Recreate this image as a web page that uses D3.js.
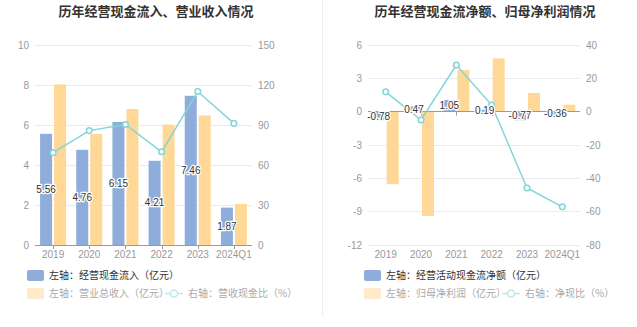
<!DOCTYPE html>
<html><head><meta charset="utf-8">
<script src="https://cdn.jsdelivr.net/npm/d3@7/dist/d3.min.js"></script>
<style>
html,body{margin:0;padding:0;background:#fff;}
svg{display:block;font-family:"Liberation Sans",Arial,"Noto Sans CJK SC",sans-serif;}
</style></head><body>
<svg id="c" width="637" height="327"></svg>
<script>
const categories = ["2019","2020","2021","2022","2023","2024Q1"];
// Left chart
const cashInflow = [5.56, 4.76, 6.15, 4.21, 7.46, 1.87];
const revenue = [8.03, 5.55, 6.80, 6.02, 6.48, 2.05];
const cashRevRatio = [69.2, 85.8, 90.4, 69.9, 115.1, 91.2];
const leftTicksL = [0, 2, 4, 6, 8, 10];
const leftTicksR = [0, 30, 60, 90, 120, 150];
// Right chart
const netCashFlow = [-0.78, 0.47, 1.05, 0.19, -0.77, -0.36];
const netProfit = [-6.53, -9.39, 3.75, 4.80, 1.68, 0.63];
const netCashRatio = [11.9, -5.0, 28.0, 3.96, -45.8, -57.1];
const rightTicksL = [-12, -9, -6, -3, 0, 3, 6];
const rightTicksR = [-80, -60, -40, -20, 0, 20, 40];

const BLUE = "#8EADDB", ORANGE = "#FFD897", LINE = "#82D5D9";
const svg = d3.select("#c");

function chart(o) {
  const g = svg.append("g");
  const x = d3.scaleBand().domain(categories).range([o.x0, o.x1]);
  const yL = d3.scaleLinear().domain(o.domL).range([245, 45]);
  const yR = d3.scaleLinear().domain(o.domR).range([245, 45]);
  // title
  g.append("text").attr("x", o.tx).attr("y", 16).attr("text-anchor", "middle")
    .attr("font-size", 13).attr("font-weight", "bold").attr("fill", "#333")
    .attr("font-family", "'Noto Sans CJK SC',sans-serif").text(o.title);
  // grid
  g.selectAll(".grid").data(o.ticksL).join("line")
    .attr("x1", o.x0).attr("x2", o.x1).attr("y1", d => yL(d)).attr("y2", d => yL(d))
    .attr("stroke", "#E8EBF4").attr("stroke-width", 1).attr("shape-rendering", "crispEdges");
  // left axis labels
  g.selectAll(".yl").data(o.ticksL).join("text")
    .attr("x", o.x0 - 6).attr("y", d => yL(d)).attr("dy", "0.35em").attr("text-anchor", "end")
    .attr("font-size", 10).attr("fill", "#999").text(d => d);
  g.selectAll(".yr").data(o.ticksR).join("text")
    .attr("x", o.x1 + 6).attr("y", d => yR(d)).attr("dy", "0.35em").attr("text-anchor", "start")
    .attr("font-size", 10).attr("fill", "#999").text(d => d);
  const c = d => x(d) + x.bandwidth() / 2;
  // bars
  g.selectAll(".b1").data(categories).join("rect")
    .attr("x", d => c(d) - 13).attr("width", 12)
    .attr("y", (d, i) => Math.min(yL(o.blue[i]), yL(0)))
    .attr("height", (d, i) => Math.abs(yL(o.blue[i]) - yL(0)))
    .attr("fill", BLUE);
  g.selectAll(".b2").data(categories).join("rect")
    .attr("x", d => c(d) + 1).attr("width", 12)
    .attr("y", (d, i) => Math.min(yL(o.orange[i]), yL(0)))
    .attr("height", (d, i) => Math.abs(yL(o.orange[i]) - yL(0)))
    .attr("fill", ORANGE);
  // axis line at zero
  g.append("line").attr("x1", o.x0).attr("x2", o.x1).attr("y1", yL(0)).attr("y2", yL(0))
    .attr("stroke", "#9a9a9a").attr("stroke-width", 1).attr("shape-rendering", "crispEdges");
  g.selectAll(".tk").data(categories).join("line")
    .attr("x1", d => Math.round(c(d)) + 0.5).attr("x2", d => Math.round(c(d)) + 0.5)
    .attr("y1", yL(0)).attr("y2", yL(0) + 4).attr("stroke", "#9a9a9a");
  // x labels
  g.selectAll(".xl").data(categories).join("text")
    .attr("x", d => c(d)).attr("y", 258).attr("text-anchor", "middle")
    .attr("font-size", 10).attr("fill", "#999").text(d => d);
  // line
  const line = d3.line().x(d => c(d[0])).y(d => yR(d[1]));
  const pts = categories.map((d, i) => [d, o.ratio[i]]);
  g.append("path").attr("d", line(pts)).attr("fill", "none").attr("stroke", LINE).attr("stroke-width", 1.5);
  g.selectAll(".pt").data(pts).join("circle")
    .attr("cx", d => c(d[0])).attr("cy", d => yR(d[1])).attr("r", 2.8)
    .attr("fill", "#fff").attr("stroke", LINE).attr("stroke-width", 1.5);
  // labels
  g.selectAll(".lb").data(categories).join("text")
    .attr("x", d => c(d) - 7).attr("y", (d, i) => (yL(o.blue[i]) + yL(0)) / 2).attr("dy", "0.35em")
    .attr("text-anchor", "middle").attr("font-size", 10).attr("fill", "#333")
    .attr("stroke", "#fff").attr("stroke-width", 2.5).attr("paint-order", "stroke")
    .attr("stroke-linejoin", "round").text((d, i) => o.blue[i].toFixed(2));
  // legend
  const lg = g.append("g").attr("font-family", "'Noto Sans CJK SC',sans-serif").attr("font-size", 10);
  lg.append("rect").attr("x", o.lx).attr("y", 270).attr("width", 17).attr("height", 11).attr("rx", 2).attr("fill", BLUE);
  lg.append("text").attr("x", o.lx + 22).attr("y", 275.5).attr("dy", "0.35em").attr("fill", "#333").text(o.leg1);
  lg.append("rect").attr("x", o.lx).attr("y", 288).attr("width", 17).attr("height", 11).attr("rx", 2).attr("fill", "#FFEBCB");
  lg.append("text").attr("x", o.lx + 22).attr("y", 293.5).attr("dy", "0.35em").attr("fill", "#aaa").text(o.leg2);
  lg.append("line").attr("x1", o.lineX).attr("x2", o.lineX + 18).attr("y1", 293.5).attr("y2", 293.5).attr("stroke", "#BDE9EB").attr("stroke-width", 1.5);
  lg.append("circle").attr("cx", o.lineX + 9).attr("cy", 293.5).attr("r", 3.5).attr("fill", "#fff").attr("stroke", "#BDE9EB").attr("stroke-width", 1.5);
  lg.append("text").attr("x", o.lineX + 23).attr("y", 293.5).attr("dy", "0.35em").attr("fill", "#aaa").text(o.leg3);
}

chart({x0: 35, x1: 252, domL: [0, 10], domR: [0, 150], ticksL: leftTicksL, ticksR: leftTicksR,
  blue: cashInflow, orange: revenue, ratio: cashRevRatio, tx: 156,
  title: "历年经营现金流入、营业收入情况", lx: 27, lineX: 165,
  leg1: "左轴：经营现金流入（亿元）", leg2: "左轴：营业总收入（亿元）", leg3: "右轴：营收现金比（%）"});
chart({x0: 368, x1: 580, domL: [-12, 6], domR: [-80, 40], ticksL: rightTicksL, ticksR: rightTicksR,
  blue: netCashFlow, orange: netProfit, ratio: netCashRatio, tx: 485,
  title: "历年经营现金流净额、归母净利润情况", lx: 364, lineX: 502,
  leg1: "左轴：经营活动现金流净额（亿元）", leg2: "左轴：归母净利润（亿元）", leg3: "右轴：净现比（%）"});
// divider
svg.append("line").attr("x1", 322.5).attr("x2", 322.5).attr("y1", 0).attr("y2", 316).attr("stroke", "#eee");
</script>
</body></html>
